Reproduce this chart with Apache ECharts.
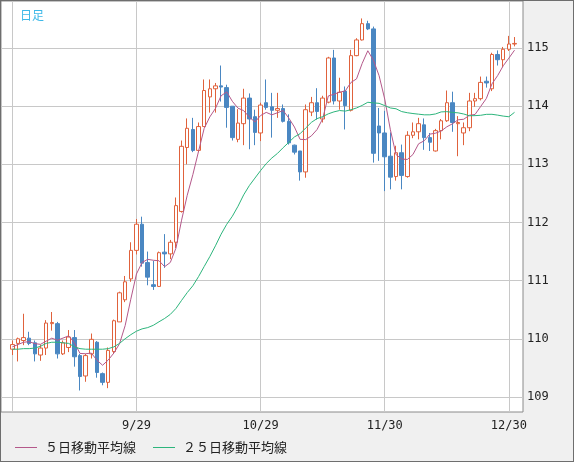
<!DOCTYPE html>
<html>
<head>
<meta charset="utf-8">
<script src="https://cdn.jsdelivr.net/npm/echarts@6/dist/echarts.min.js"></script>
<style>
  html, body { margin: 0; padding: 0; background: #f0f0f0; }
  #main { width: 572px; height: 460px; border: 1px solid #6e6e6e; background: #f0f0f0; }
</style>
</head>
<body>
<div id="main"></div>
<script>
// 日足データ（チャートから読み取り）
var dates = ['8/30','8/31','9/1','9/2','9/3','9/6','9/7','9/8','9/9','9/10',
  '9/13','9/14','9/15','9/16','9/17','9/20','9/21','9/22','9/23','9/24',
  '9/27','9/28','9/29','9/30','10/1','10/4','10/5','10/6','10/7','10/8',
  '10/11','10/12','10/13','10/14','10/15','10/18','10/19','10/20','10/21','10/22',
  '10/25','10/26','10/27','10/28','10/29','11/1','11/2','11/3','11/4','11/5',
  '11/8','11/9','11/10','11/11','11/12','11/15','11/16','11/17','11/18','11/19',
  '11/22','11/23','11/24','11/25','11/26','11/29','11/30','12/1','12/2','12/3',
  '12/6','12/7','12/8','12/9','12/10','12/13','12/14','12/15','12/16','12/17',
  '12/20','12/21','12/22','12/23','12/24','12/27','12/28','12/29','12/30','12/31'];

var opens = [109.82,109.92,109.97,110.01,109.93,109.72,109.84,110.26,110.26,109.74,
  109.85,110.02,109.71,109.36,109.74,109.94,109.40,109.25,109.78,110.29,
  110.67,111.03,111.52,111.97,111.31,110.93,110.90,111.49,111.46,111.66,
  112.19,113.29,113.60,113.24,113.65,114.16,114.30,114.35,114.32,114.00,
  113.43,113.70,114.14,113.82,113.54,114.06,113.99,113.93,113.96,113.74,
  113.33,113.23,112.87,113.90,114.06,113.78,114.07,114.83,114.09,114.26,
  113.93,114.87,115.14,115.42,115.33,113.66,113.54,113.14,112.79,113.20,
  112.79,113.50,113.56,113.68,113.46,113.23,113.58,113.75,114.06,113.70,
  113.54,113.63,114.09,114.13,114.43,114.30,114.89,114.80,114.98,115.07];

var closes = [109.90,110.00,110.02,109.92,109.74,109.84,110.27,110.28,109.74,109.93,
  110.03,109.69,109.35,109.71,109.99,109.42,109.25,109.80,110.31,110.79,
  110.98,111.52,111.97,111.30,111.06,110.90,111.48,111.46,111.66,112.29,
  113.31,113.62,113.24,113.65,114.27,114.30,114.35,114.33,113.98,113.46,
  113.71,114.14,113.78,113.55,114.02,113.98,113.93,113.96,113.74,113.37,
  113.21,112.87,113.94,114.06,113.91,114.14,114.83,114.09,114.24,114.01,
  114.87,115.14,115.42,115.33,113.19,113.54,113.13,112.78,113.20,112.81,
  113.50,113.56,113.70,113.46,113.38,113.58,113.75,114.06,113.72,113.72,
  113.63,114.09,114.13,114.41,114.40,114.89,114.80,114.98,115.07,115.08];

var lows = [109.72,109.61,109.89,109.89,109.61,109.62,109.72,110.14,109.66,109.72,
  109.77,109.52,109.11,109.26,109.66,109.33,109.20,109.15,109.74,110.29,
  110.63,110.98,111.45,111.24,110.92,110.84,110.89,111.22,111.37,111.56,
  112.17,113.00,113.21,113.21,113.65,113.89,113.89,114.08,113.63,113.41,
  113.38,113.33,113.26,113.33,113.40,113.94,113.46,113.80,113.72,113.34,
  113.17,112.72,112.77,113.83,113.77,113.72,114.05,114.03,113.94,113.60,
  113.91,114.86,115.13,115.31,113.03,113.06,112.54,112.57,112.72,112.57,
  112.77,113.45,113.43,113.25,113.23,113.22,113.43,113.73,113.56,113.14,
  113.33,113.57,113.99,114.10,114.32,114.26,114.70,114.67,114.95,115.03];

var highs = [109.97,110.02,110.43,110.12,109.97,109.90,110.32,110.46,110.29,109.97,
  110.15,110.15,109.74,109.74,110.09,109.96,109.42,109.85,110.33,110.81,
  111.08,111.66,112.06,112.10,111.50,111.34,111.50,111.80,111.70,112.43,
  113.41,113.79,113.80,113.72,114.46,114.46,114.40,114.70,114.37,114.00,
  113.95,114.30,114.22,113.94,114.06,114.46,114.23,114.23,114.03,113.86,
  113.34,113.23,114.03,114.16,114.31,114.18,114.85,114.97,114.49,114.34,
  114.97,115.17,115.51,115.47,115.37,113.97,113.92,113.55,113.32,113.34,
  113.57,113.72,113.80,113.79,113.54,113.61,113.78,114.27,114.25,113.83,
  113.72,114.23,114.23,114.51,114.51,114.92,114.96,115.02,115.21,115.19];

// 表示期間より前の履歴が必要な部分は画像から読み取った値
var ma5Head = [109.86, 109.90, 109.94, 109.95];
var ma25Head = [109.82,109.82,109.83,109.83,109.84,109.87,109.92,109.94,109.94,109.93,
  109.92,109.86,109.83,109.82,109.82,109.82,109.82,109.83,109.86,109.92,
  110.00,110.07,110.13,110.17];

var yTicks = [109, 110, 111, 112, 113, 114, 115];
var xGridIdx = [0, 22, 44, 66, 88];
var xLabelIdx = [22, 44, 66, 88];

function calcMA(n, head)
{
  var result = [];
  for (var i = 0; i < closes.length; i++) {
    if (i < head.length) {
      result.push([i, head[i]]);
      continue;
    }
    var sum = 0;
    for (var j = 0; j < n; j++) {
      sum += closes[i - j];
    }
    result.push([i, +(sum / n).toFixed(3)]);
  }
  return result;
}

var candleData = [];
for (var i = 0; i < dates.length; i++) {
  candleData.push([i, opens[i], closes[i], lows[i], highs[i]]);
}

var myChart = echarts.init(document.getElementById('main'));
var axisFont = 'DejaVu Sans Mono';

var option = {
  animation: false,
  backgroundColor: '#f0f0f0',
  title: {
    text: '日足',
    left: 14,
    top: 3,
    textStyle: {
      color: '#3cb8e8',
      fontSize: 12,
      fontWeight: 'normal',
      fontFamily: 'Noto Sans CJK JP'
    }
  },
  legend: {
    left: 14,
    bottom: 7,
    padding: 0,
    itemWidth: 22,
    itemHeight: 1,
    itemGap: 17,
    icon: 'rect',
    textStyle: {
      color: '#222',
      fontSize: 13,
      fontFamily: 'Noto Sans CJK JP',
      padding: [0, 0, 0, 3]
    },
    data: ['５日移動平均線', '２５日移動平均線']
  },
  grid: {
    left: 0,
    top: 0,
    width: 522,
    height: 411,
    show: true,
    backgroundColor: '#ffffff',
    borderColor: '#8a8a8a',
    borderWidth: 1
  },
  xAxis: {
    type: 'value',
    min: -2,
    max: 90.5,
    axisLine: { show: false },
    axisTick: { show: false, customValues: xGridIdx },
    axisLabel: {
      customValues: xLabelIdx,
      color: '#222',
      fontSize: 12,
      fontFamily: axisFont,
      margin: 8,
      formatter: function (v) { return dates[v]; }
    },
    splitLine: { show: true, lineStyle: { color: '#c8c8c8', width: 1 } }
  },
  yAxis: {
    type: 'value',
    position: 'right',
    min: 108.74,
    max: 115.81,
    axisLine: { show: false },
    axisTick: { show: false, customValues: yTicks },
    axisLabel: {
      customValues: yTicks,
      color: '#222',
      fontSize: 12,
      fontFamily: axisFont,
      margin: 4
    },
    splitLine: { show: true, lineStyle: { color: '#c8c8c8', width: 1 } }
  },
  series: [
    {
      name: '日足',
      type: 'candlestick',
      data: candleData,
      barWidth: 4,
      encode: { x: 0, y: [1, 2, 3, 4] },
      itemStyle: {
        color: '#ffffff',
        color0: '#4a87c2',
        borderColor: '#e0623c',
        borderColor0: '#4a87c2',
        borderWidth: 1
      }
    },
    {
      name: '５日移動平均線',
      type: 'line',
      data: calcMA(5, ma5Head),
      symbol: 'none',
      itemStyle: { color: '#b4588a' },
      lineStyle: { color: '#b4588a', width: 1 }
    },
    {
      name: '２５日移動平均線',
      type: 'line',
      data: calcMA(25, ma25Head),
      symbol: 'none',
      itemStyle: { color: '#2db57c' },
      lineStyle: { color: '#2db57c', width: 1 }
    }
  ]
};
myChart.setOption(option);
</script>
</body>
</html>
